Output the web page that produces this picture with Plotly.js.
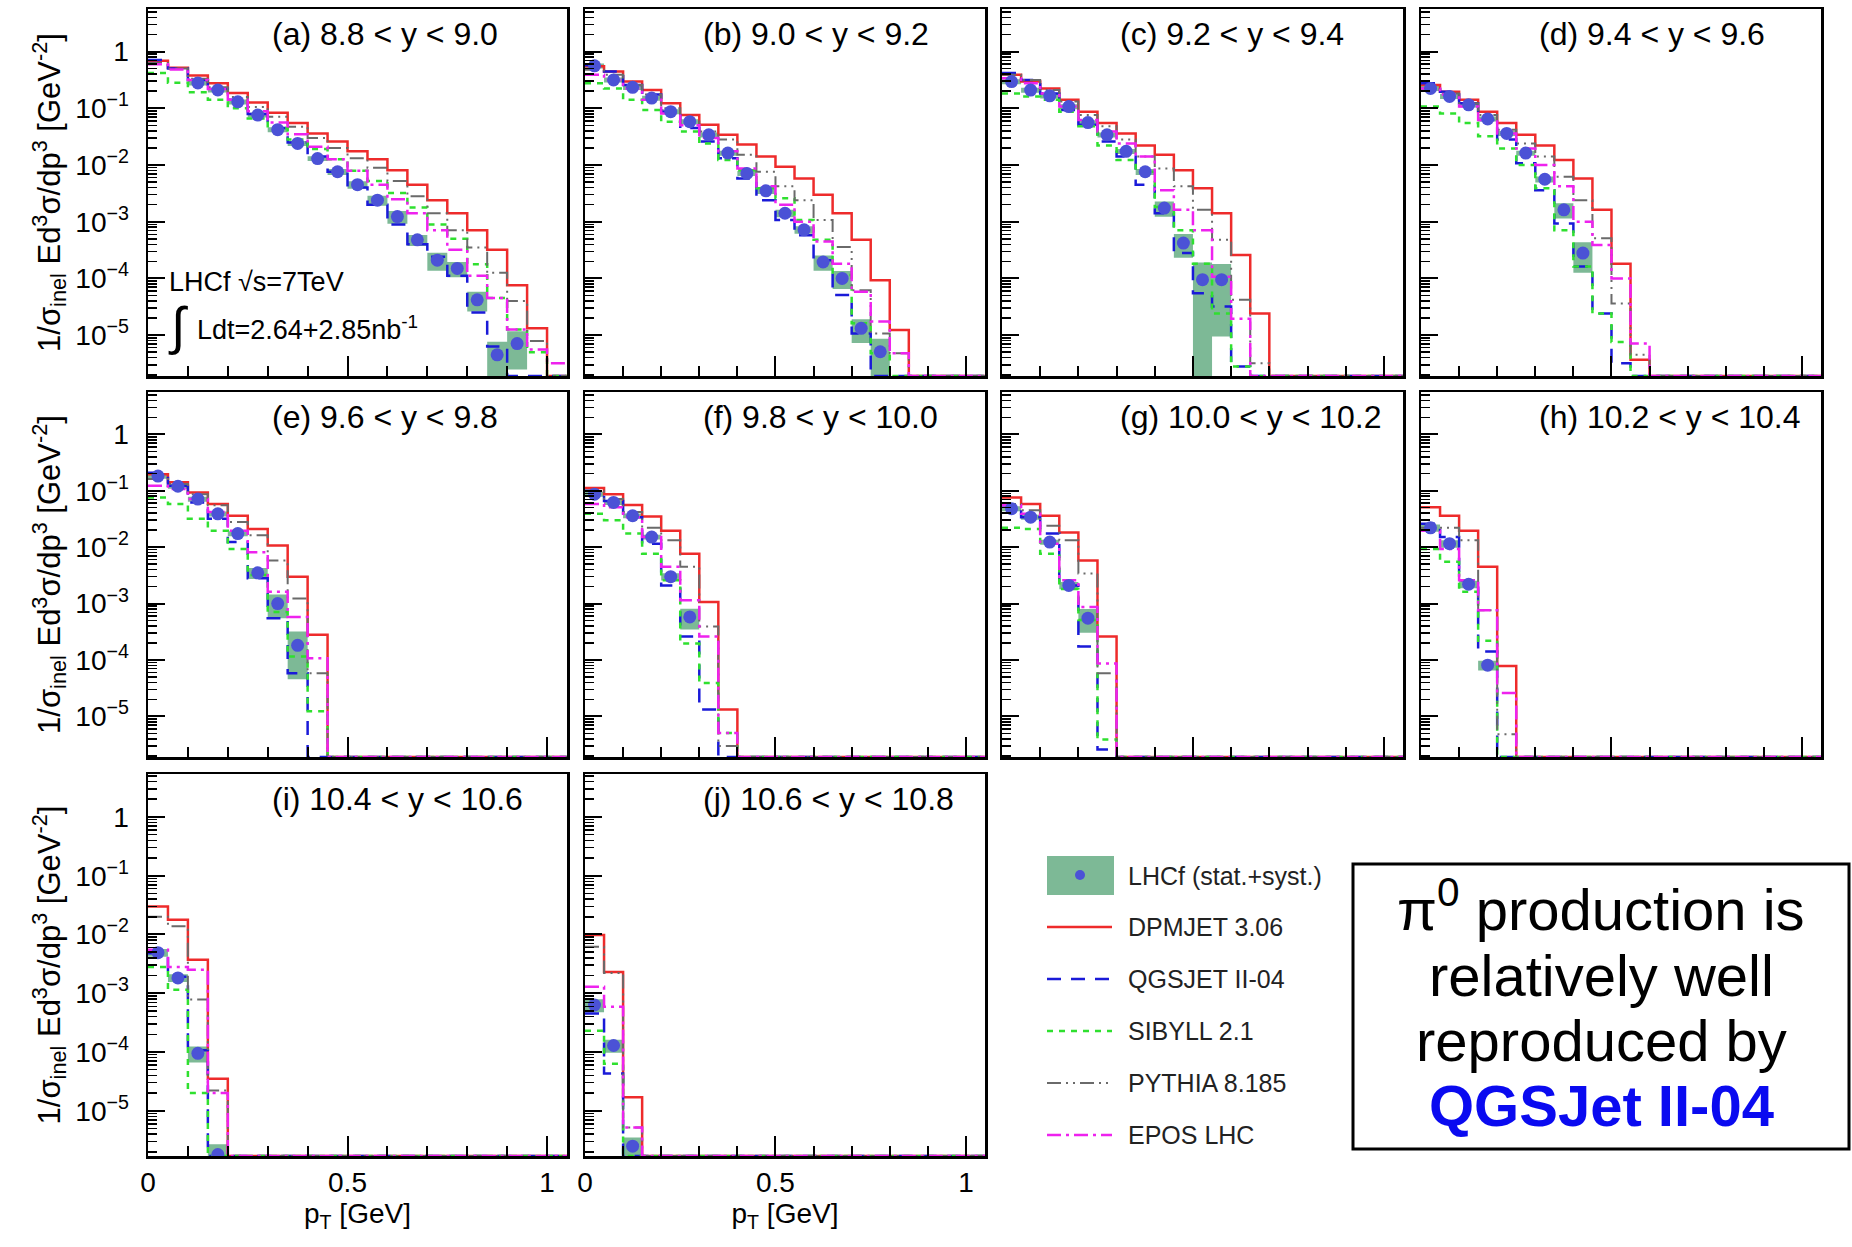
<!DOCTYPE html>
<html><head><meta charset="utf-8">
<script src="https://cdn.plot.ly/plotly-3.0.1.min.js"></script>
<style>html,body{margin:0;padding:0;background:#fff;}#chart{width:1852px;height:1247px;}</style>
</head><body><div id="chart"></div>
<script>
// ---------------- DATA ----------------
const ptEdges = [0,0.05,0.1,0.15,0.2,0.25,0.3,0.35,0.4,0.45,0.5,0.55,0.6,0.65,0.7,0.75,0.8,0.85,0.9,0.95,1.0,1.05];
const panelLabels = ['(a) 8.8 &lt; y &lt; 9.0','(b) 9.0 &lt; y &lt; 9.2','(c) 9.2 &lt; y &lt; 9.4','(d) 9.4 &lt; y &lt; 9.6',
  '(e) 9.6 &lt; y &lt; 9.8','(f) 9.8 &lt; y &lt; 10.0','(g) 10.0 &lt; y &lt; 10.2','(h) 10.2 &lt; y &lt; 10.4',
  '(i) 10.4 &lt; y &lt; 10.6','(j) 10.6 &lt; y &lt; 10.8'];
const modelNames = ['DPMJET 3.06','QGSJET II-04','SIBYLL 2.1','PYTHIA 8.185','EPOS LHC'];
const dataName = 'LHCf (stat.+syst.)';

// (a) 8.8 < y < 9.0
const a_pt = [0.125,0.175,0.225,0.275,0.325,0.375,0.425,0.475,0.525,0.575,0.625,0.675,0.725,0.775,0.825,0.875,0.925];
const a_data = [2.8e-1,2.1e-1,1.3e-1,7.6e-2,4.2e-2,2.4e-2,1.3e-2,7.6e-3,4.5e-3,2.4e-3,1.23e-3,4.8e-4,2.1e-4,1.5e-4,4.2e-5,4.5e-6,7.1e-6];
const a_relErr = [0.1,0.1,0.1,0.1,0.1,0.1,0.1,0.12,0.15,0.2,0.25,0.22,0.35,0.3,0.38,0.7,0.65];
const a_dpmjet = [0.69,0.52,0.38,0.275,0.186,0.126,8.3e-2,5.5e-2,3.6e-2,2.6e-2,1.74e-2,1.26e-2,8.1e-3,4.5e-3,2.4e-3,1.41e-3,7.1e-4,3.2e-4,7.6e-5,1.32e-5,0];
const a_qgsjet = [0.71,0.50,0.316,0.224,0.141,7.9e-2,4.5e-2,2.5e-2,1.41e-2,7.6e-3,4.0e-3,2.0e-3,8.9e-4,4.0e-4,2.4e-4,1.12e-4,2.5e-5,6.3e-6,0,0,0];
const a_sibyll = [0.417,0.282,0.191,0.141,0.1,6.6e-2,4.5e-2,2.8e-2,1.91e-2,1.26e-2,7.9e-3,5.2e-3,3.2e-3,1.78e-3,8.9e-4,5.0e-4,1.78e-4,4.5e-5,1.26e-5,5.0e-6,0];
const a_pythia = [0.63,0.50,0.331,0.234,0.158,0.105,7.1e-2,4.7e-2,3.0e-2,2.0e-2,1.32e-2,8.9e-3,5.2e-3,2.8e-3,1.41e-3,7.1e-4,3.5e-4,1.26e-4,4.0e-5,7.9e-6,0];
const a_epos = [0.60,0.48,0.316,0.219,0.141,8.9e-2,5.6e-2,3.5e-2,2.1e-2,1.26e-2,7.9e-3,4.5e-3,2.5e-3,1.41e-3,7.1e-4,3.2e-4,1.12e-4,4.5e-5,1.26e-5,5.6e-6,3.2e-6];

// (b) 9.0 < y < 9.2
const b_pt = [0.025,0.075,0.125,0.175,0.225,0.275,0.325,0.375,0.425,0.475,0.525,0.575,0.625,0.675,0.725,0.775];
const b_data = [0.56,0.316,0.234,0.151,8.7e-2,5.8e-2,3.4e-2,1.62e-2,7.1e-3,3.5e-3,1.41e-3,7.2e-4,1.95e-4,1.0e-4,1.32e-5,5.1e-6];
const b_relErr = [0.1,0.1,0.1,0.1,0.1,0.1,0.1,0.1,0.1,0.12,0.15,0.15,0.3,0.35,0.45,0.7];
const b_dpmjet = [0.55,0.447,0.295,0.209,0.123,7.6e-2,5.1e-2,3.4e-2,2.3e-2,1.41e-2,9.3e-3,5.8e-3,3.0e-3,1.41e-3,4.8e-4,9.3e-5,1.23e-5];
const b_qgsjet = [0.575,0.447,0.257,0.174,8.7e-2,4.5e-2,2.6e-2,1.32e-2,5.8e-3,2.4e-3,1.07e-3,5.8e-4,2.1e-4,5.1e-5,1.07e-5];
const b_sibyll = [0.275,0.224,0.141,9.3e-2,5.8e-2,3.9e-2,2.4e-2,1.23e-2,8.1e-3,3.9e-3,2.6e-3,1.07e-3,4.8e-4,1.15e-4,1.62e-5,4.8e-6];
const b_pythia = [0.479,0.389,0.257,0.174,0.1,6.2e-2,3.9e-2,2.8e-2,1.51e-2,7.6e-3,4.2e-3,2.4e-3,1.07e-3,3.6e-4,6.2e-5,1.07e-5,4.8e-6];
const b_epos = [0.389,0.316,0.224,0.141,8.1e-2,5.0e-2,3.0e-2,1.74e-2,8.7e-3,4.2e-3,2.0e-3,1.0e-3,4.5e-4,1.82e-4,5.8e-5,1.74e-5,4.8e-6];

// (c) 9.2 < y < 9.4
const c_pt = [0.025,0.075,0.125,0.175,0.225,0.275,0.325,0.375,0.425,0.475,0.525,0.575];
const c_data = [0.295,0.209,0.166,0.107,5.6e-2,3.4e-2,1.74e-2,7.6e-3,1.74e-3,4.2e-4,9.5e-5,9.5e-5];
const c_relErr = [0.1,0.1,0.1,0.1,0.1,0.1,0.1,0.12,0.3,0.45,1.0,0.9];
const c_dpmjet = [0.389,0.295,0.224,0.141,8.7e-2,5.5e-2,3.6e-2,2.2e-2,1.51e-2,8.1e-3,3.9e-3,1.41e-3,2.6e-4,2.4e-5];
const c_qgsjet = [0.417,0.316,0.182,9.3e-2,5.1e-2,2.6e-2,1.41e-2,4.5e-3,1.41e-3,2.8e-4,5.5e-5,3.2e-5,2.8e-6];
const c_sibyll = [0.182,0.162,0.141,8.7e-2,4.8e-2,2.2e-2,1.23e-2,7.6e-3,1.82e-3,7.1e-4,1.82e-4,2.4e-5,2.8e-6];
const c_pythia = [0.389,0.316,0.209,0.132,7.6e-2,4.8e-2,2.8e-2,1.41e-2,8.7e-3,4.2e-3,1.62e-3,4.8e-4,4.2e-5,3.2e-6];
const c_epos = [0.339,0.275,0.182,0.107,6.2e-2,3.9e-2,2.4e-2,1.41e-2,3.6e-3,1.62e-3,7.1e-4,1.07e-4,1.95e-5];

// (d) 9.4 < y < 9.6
const d_pt = [0.025,0.075,0.125,0.175,0.225,0.275,0.325,0.375,0.425];
const d_data = [0.224,0.162,0.115,6.5e-2,3.6e-2,1.62e-2,5.6e-3,1.62e-3,2.8e-4];
const d_relErr = [0.1,0.1,0.1,0.1,0.1,0.1,0.12,0.3,0.55];
const d_dpmjet = [0.257,0.195,0.141,8.7e-2,5.5e-2,3.4e-2,2.2e-2,1.23e-2,5.8e-3,1.62e-3,1.82e-4,3.7e-6];
const d_qgsjet = [0.275,0.195,0.123,6.2e-2,2.8e-2,1.07e-2,3.6e-3,9.3e-4,1.62e-4,2.4e-5,3.2e-6];
const d_sibyll = [0.107,8.1e-2,5.5e-2,3.2e-2,1.95e-2,1.0e-2,3.9e-3,7.1e-4,1.62e-4,2.4e-5,7.6e-6];
const d_pythia = [0.224,0.182,0.123,7.6e-2,4.2e-2,2.4e-2,1.41e-2,6.2e-3,2.4e-3,5.1e-4,3.6e-5,4.5e-6];
const d_epos = [0.224,0.174,0.107,6.2e-2,3.6e-2,1.95e-2,1.0e-2,4.2e-3,1.0e-3,3.9e-4,1.0e-4,7.1e-6];

// (e) 9.6 < y < 9.8
const e_pt = [0.025,0.075,0.125,0.175,0.225,0.275,0.325,0.375];
const e_data = [0.182,0.120,7.1e-2,3.9e-2,1.74e-2,3.5e-3,1.0e-3,1.82e-4];
const e_relErr = [0.1,0.1,0.1,0.1,0.1,0.22,0.45,0.75];
const e_dpmjet = [0.195,0.141,9.3e-2,5.8e-2,3.6e-2,2.1e-2,1.07e-2,3.0e-3,2.8e-4];
const e_qgsjet = [0.209,0.123,6.2e-2,3.2e-2,1.23e-2,2.8e-3,5.5e-4,5.8e-5];
const e_sibyll = [7.6e-2,5.8e-2,3.2e-2,1.95e-2,9.3e-3,3.2e-3,7.1e-4,1.15e-4,1.23e-5];
const e_pythia = [0.162,0.132,8.7e-2,5.5e-2,2.8e-2,1.62e-2,5.8e-3,1.23e-3,5.8e-5];
const e_epos = [0.123,0.107,7.1e-2,4.2e-2,1.95e-2,8.1e-3,1.62e-3,5.8e-4,1.07e-4];

// (f) 9.8 < y < 10.0
const f_pt = [0.025,0.075,0.125,0.175,0.225,0.275];
const f_data = [8.7e-2,6.2e-2,3.6e-2,1.51e-2,3.0e-3,5.8e-4];
const f_relErr = [0.1,0.1,0.1,0.1,0.15,0.4];
const f_dpmjet = [0.112,8.7e-2,5.6e-2,3.5e-2,1.95e-2,7.6e-3,1.07e-3,1.32e-5];
const f_qgsjet = [0.1,6.6e-2,3.4e-2,1.15e-2,2.1e-3,2.6e-4,1.32e-5];
const f_sibyll = [3.9e-2,3.0e-2,1.74e-2,7.6e-3,2.6e-3,1.95e-4,3.9e-5,5.1e-6];
const f_pythia = [0.1,7.1e-2,4.2e-2,2.2e-2,1.32e-2,4.5e-3,3.9e-4,3.0e-6];
const f_epos = [5.8e-2,5.1e-2,3.4e-2,1.51e-2,4.5e-3,1.15e-3,2.6e-4,5.1e-6];

// (g) 10.0 < y < 10.2
const g_pt = [0.025,0.075,0.125,0.175,0.225];
const g_data = [4.8e-2,3.4e-2,1.23e-2,2.1e-3,5.5e-4];
const g_relErr = [0.1,0.1,0.1,0.15,0.45];
const g_dpmjet = [7.6e-2,5.8e-2,3.6e-2,1.82e-2,5.8e-3,2.6e-4];
const g_qgsjet = [5.5e-2,3.4e-2,1.74e-2,2.1e-3,1.74e-4,2.6e-6];
const g_sibyll = [2.2e-2,2.1e-2,7.6e-3,1.82e-3,5.1e-4,3.9e-6];
const g_pythia = [5.8e-2,4.5e-2,2.4e-2,1.32e-2,3.4e-3,5.8e-5];
const g_epos = [5.5e-2,3.9e-2,1.15e-2,2.6e-3,8.7e-4,8.7e-5];

// (h) 10.2 < y < 10.4
const h_pt = [0.025,0.075,0.125,0.175];
const h_data = [2.2e-2,1.15e-2,2.2e-3,8.1e-5];
const h_relErr = [0.15,0.15,0.15,0.2];
const h_dpmjet = [5.1e-2,3.6e-2,1.95e-2,4.5e-3,7.8e-5];
const h_qgsjet = [2.6e-2,1.51e-2,2.6e-3,1.41e-4];
const h_sibyll = [9.3e-3,5.5e-3,1.62e-3,2.2e-4];
const h_pythia = [2.2e-2,2.2e-2,1.32e-2,7.6e-4,4.8e-6];
const h_epos = [1.95e-2,9.3e-3,2.6e-3,7.6e-4,2.6e-5];

// (i) 10.4 < y < 10.6
const i_pt = [0.025,0.075,0.125,0.175];
const i_data = [4.9e-3,1.82e-3,9.5e-5,1.8e-6];
const i_relErr = [0.15,0.15,0.3,0.5];
const i_dpmjet = [3.0e-2,1.78e-2,3.7e-3,3.5e-5];
const i_qgsjet = [4.8e-3,1.91e-3,1.07e-4];
const i_sibyll = [2.8e-3,1.15e-3,2.0e-5];
const i_pythia = [2.0e-2,1.38e-2,7.8e-4,2.2e-5];
const i_epos = [5.5e-3,2.8e-3,2.5e-3,2.0e-5];

// (j) 10.6 < y < 10.8
const j_pt = [0.025,0.075,0.125];
const j_data = [6.3e-4,1.29e-4,2.5e-6];
const j_relErr = [0.25,0.25,0.4];
const j_dpmjet = [9.8e-3,2.3e-3,1.7e-5];
const j_qgsjet = [4.5e-4,4.3e-5];
const j_sibyll = [2.3e-4,6.3e-5];
const j_pythia = [6.2e-3,2.2e-3,5.2e-6];
const j_epos = [1.29e-3,5.9e-4,5.2e-6];

// ---------------- LAYOUT / STYLE ----------------
const W = 1852, H = 1247;
const FONT = 'Liberation Sans, Arial, sans-serif';
const colPx = [[148,567],[585,985],[1002,1403],[1421,1821]];
const rowPx = [[9,376],[392,757],[774,1156]];
const rowRange = [[-5.72,0.75],[-5.72,0.75],[-5.77,0.73]];
const px = v => v / W;
const py = v => 1 - v / H;

const panels = [
  {pt:a_pt, data:a_data, rel:a_relErr, models:[a_dpmjet,a_qgsjet,a_sibyll,a_pythia,a_epos]},
  {pt:b_pt, data:b_data, rel:b_relErr, models:[b_dpmjet,b_qgsjet,b_sibyll,b_pythia,b_epos]},
  {pt:c_pt, data:c_data, rel:c_relErr, models:[c_dpmjet,c_qgsjet,c_sibyll,c_pythia,c_epos]},
  {pt:d_pt, data:d_data, rel:d_relErr, models:[d_dpmjet,d_qgsjet,d_sibyll,d_pythia,d_epos]},
  {pt:e_pt, data:e_data, rel:e_relErr, models:[e_dpmjet,e_qgsjet,e_sibyll,e_pythia,e_epos]},
  {pt:f_pt, data:f_data, rel:f_relErr, models:[f_dpmjet,f_qgsjet,f_sibyll,f_pythia,f_epos]},
  {pt:g_pt, data:g_data, rel:g_relErr, models:[g_dpmjet,g_qgsjet,g_sibyll,g_pythia,g_epos]},
  {pt:h_pt, data:h_data, rel:h_relErr, models:[h_dpmjet,h_qgsjet,h_sibyll,h_pythia,h_epos]},
  {pt:i_pt, data:i_data, rel:i_relErr, models:[i_dpmjet,i_qgsjet,i_sibyll,i_pythia,i_epos]},
  {pt:j_pt, data:j_data, rel:j_relErr, models:[j_dpmjet,j_qgsjet,j_sibyll,j_pythia,j_epos]}
];

const modelStyles = [
  {color:'#ee2b2b', dash:'solid', width:2.5},
  {color:'#1a1ad8', dash:'14px,10px', width:2.5},
  {color:'#2fe02f', dash:'6px,6px', width:2.5},
  {color:'#6a6a6a', dash:'14px,5px,2px,5px,2px,5px', width:2},
  {color:'#ee22ee', dash:'14px,5px,3px,5px', width:2.5}
];
const boxColor = '#7db996';
const markerColor = '#4b52d6';

const traces = [];
const layout = {
  width: W, height: H, margin: {l:0, r:0, t:0, b:0},
  paper_bgcolor: '#fff', plot_bgcolor: '#fff', showlegend: false,
  font: {family: FONT, color: '#000'},
  annotations: [], shapes: []
};

panels.forEach((p, k) => {
  const row = Math.floor(k / 4), col = k % 4;
  const sfx = k === 0 ? '' : String(k + 1);
  const xa = 'x' + sfx, ya = 'y' + sfx;
  const floor = Math.pow(10, rowRange[row][0]);
  const nb = ptEdges.length - 1;
  const halfW = (ptEdges[1] - ptEdges[0]) / 2;

  // error boxes (stat.+syst.)
  const bx = [], by = [];
  p.pt.forEach((pt, n) => {
    const v = p.data[n], r = p.rel[n];
    const lo = Math.max(v * (1 - r), floor), hi = v * (1 + r);
    bx.push(pt - halfW, pt + halfW, pt + halfW, pt - halfW, pt - halfW, null);
    by.push(lo, lo, hi, hi, lo, null);
  });
  traces.push({type:'scatter', mode:'none', fill:'toself', fillcolor:boxColor, x:bx, y:by,
    xaxis:xa, yaxis:ya, hoverinfo:'skip', showlegend:false, name:dataName});

  // model histograms
  p.models.forEach((vals, m) => {
    const x = [], y = [];
    for (let b = 0; b < nb; b++) {
      const v = (b < vals.length && vals[b] > 0) ? vals[b] : floor;
      x.push(ptEdges[b]); y.push(v);
    }
    x.push(ptEdges[nb]); y.push(y[y.length - 1]);
    traces.push({type:'scatter', mode:'lines', x, y, xaxis:xa, yaxis:ya, name:modelNames[m],
      line:{shape:'hv', color:modelStyles[m].color, dash:modelStyles[m].dash, width:modelStyles[m].width},
      hoverinfo:'skip', showlegend:false});
  });

  // data points
  traces.push({type:'scatter', mode:'markers', x:p.pt, y:p.data, xaxis:xa, yaxis:ya, name:dataName,
    marker:{size:13, color:markerColor}, hoverinfo:'skip', showlegend:false});

  const [xl, xr] = colPx[col], [yt, yb] = rowPx[row];
  const leftCol = col === 0, bottomRow = row === 2;
  const xaxis = {
    domain:[px(xl), px(xr)], anchor: ya, range:[0, 1.05], type:'linear',
    showline:true, mirror:true, linecolor:'#000', linewidth:2.5, showgrid:false, zeroline:false,
    tickmode:'linear', tick0:0, dtick:0.5, ticks:'inside', ticklen:20, tickwidth:2, tickcolor:'#000',
    minor:{dtick:0.1, ticks:'inside', ticklen:10, tickwidth:2, tickcolor:'#000', showgrid:false},
    showticklabels: bottomRow, tickfont:{size:28, family:FONT, color:'#000'},
    automargin:false, fixedrange:true
  };
  if (bottomRow) xaxis.title = {text:'p<sub>T</sub> [GeV]', font:{size:28, family:FONT, color:'#000'}, standoff:4};
  layout['xaxis' + sfx] = xaxis;

  const yaxis = {
    domain:[py(yb), py(yt)], anchor: xa, type:'log', range: rowRange[row],
    showline:true, mirror:true, linecolor:'#000', linewidth:2.5, showgrid:false, zeroline:false,
    tickmode:'linear', tick0:0, dtick:1, exponentformat:'power', ticks:'inside', ticklen:17, tickwidth:2, tickcolor:'#000',
    minor:{dtick:'D1', ticks:'inside', ticklen:9, tickwidth:1.5, tickcolor:'#000', showgrid:false},
    showticklabels: leftCol, ticklabelstandoff: 12, tickfont:{size:22.5, family:FONT, color:'#000'},
    automargin:false, fixedrange:true
  };
  if (leftCol) yaxis.title = {text:'1/σ<sub>inel</sub> Ed<sup>3</sup>σ/dp<sup>3</sup> [GeV<sup>-2</sup>]', font:{size:31, family:FONT, color:'#000'}, standoff:6};
  layout['yaxis' + sfx] = yaxis;

  layout.annotations.push({xref:'paper', yref:'paper', x:px(xl + 0.29 * (xr - xl)), y:py(yt + 25),
    xanchor:'left', yanchor:'middle', showarrow:false, text:panelLabels[k],
    font:{size:32, family:FONT, color:'#000'}});
});

// LHCf run annotation inside panel (a)
layout.annotations.push(
  {xref:'paper', yref:'paper', x:px(167), y:py(282), xanchor:'left', yanchor:'middle', showarrow:false,
   text:'LHCf √s=7TeV', font:{size:27, family:FONT, color:'#000'}},
  {xref:'paper', yref:'paper', x:px(166), y:py(326), xanchor:'left', yanchor:'middle', showarrow:false,
   text:'∫', font:{size:52, family:FONT, color:'#000'}},
  {xref:'paper', yref:'paper', x:px(195), y:py(328), xanchor:'left', yanchor:'middle', showarrow:false,
   text:'Ldt=2.64+2.85nb<sup>-1</sup>', font:{size:27, family:FONT, color:'#000'}}
);

// Legend (drawn manually)
const legX0 = 1047, legX1 = 1112, legTextX = 1126;
const legRows = [876, 927, 979, 1031, 1083, 1135];
layout.shapes.push({type:'rect', xref:'paper', yref:'paper', x0:px(legX0), x1:px(1114), y0:py(legRows[0]-20), y1:py(legRows[0]+19),
  fillcolor:boxColor, line:{width:0}});
layout.shapes.push({type:'circle', xref:'paper', yref:'paper', x0:px(1075), x1:px(1085), y0:py(legRows[0]-6), y1:py(legRows[0]+4),
  fillcolor:markerColor, line:{width:0}});
layout.annotations.push({xref:'paper', yref:'paper', x:px(legTextX), y:py(legRows[0]), xanchor:'left', yanchor:'middle',
  showarrow:false, text:dataName, font:{size:25, family:FONT, color:'#222'}});
modelNames.forEach((nm, m) => {
  const yy = legRows[m + 1];
  layout.shapes.push({type:'line', xref:'paper', yref:'paper', x0:px(legX0), x1:px(legX1), y0:py(yy), y1:py(yy),
    line:{color:modelStyles[m].color, width:modelStyles[m].width, dash:modelStyles[m].dash}});
  layout.annotations.push({xref:'paper', yref:'paper', x:px(legTextX), y:py(yy), xanchor:'left', yanchor:'middle',
    showarrow:false, text:nm, font:{size:25, family:FONT, color:'#222'}});
});

// Comment box
layout.shapes.push({type:'rect', xref:'paper', yref:'paper', x0:px(1353), x1:px(1849), y0:py(1149), y1:py(864),
  line:{color:'#000', width:3}, fillcolor:'rgba(0,0,0,0)'});
const boxLines = ['π<sup>0</sup> production is', 'relatively well', 'reproduced by', '<b>QGSJet II-04</b>'];
const boxLineY = [905, 975, 1040, 1105];
boxLines.forEach((t, n) => {
  layout.annotations.push({xref:'paper', yref:'paper', x:px(1601), y:py(boxLineY[n]), xanchor:'center', yanchor:'middle',
    showarrow:false, text:t, font:{size:58, family:FONT, color: n === 3 ? '#0a0af0' : '#000'}});
});

Plotly.newPlot('chart', traces, layout, {staticPlot:true, displayModeBar:false});
</script>
</body></html>
